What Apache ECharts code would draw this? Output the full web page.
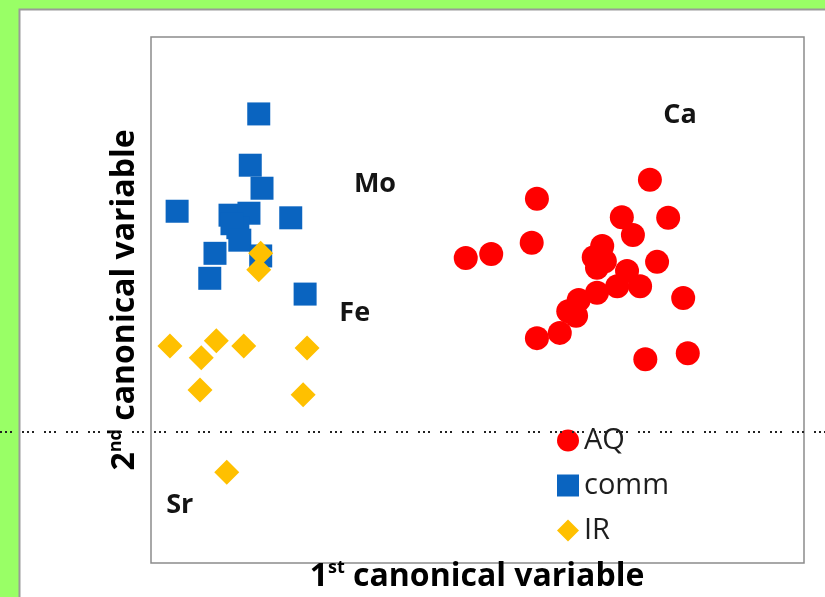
<!DOCTYPE html>
<html>
<head>
<meta charset="utf-8">
<script src="https://cdn.jsdelivr.net/npm/echarts@6/dist/echarts.min.js"></script>
<style>
html, body { margin: 0; padding: 0; background: #99ff66; }
#chart { width: 825px; height: 597px; }
</style>
</head>
<body>
<div id="chart"></div>
<script>
// AQ
var aqX = [3.64, 1.91, 3.21, 3.92, 3.38, 1.83, 0.82, 1.21, 2.91, 2.78, 2.95, 2.83, 3.75, 3.29, 3.14, 3.49, 2.83, 2.55, 2.39, 2.51, 4.15, 2.26, 1.91, 3.57, 4.22];
var aqY = [1.83, 1.54, 1.26, 1.25, 0.99, 0.87, 0.64, 0.70, 0.82, 0.65, 0.59, 0.49, 0.58, 0.44, 0.21, 0.21, 0.11, 0.00, -0.17, -0.24, 0.03, -0.50, -0.58, -0.90, -0.81];
// comm
var commX = [-2.35, -2.48, -2.30, -3.60, -2.79, -2.50, -1.86, -2.67, -2.76, -2.64, -3.02, -2.32, -3.10, -1.64];
var commY = [2.83, 2.05, 1.70, 1.35, 1.29, 1.32, 1.25, 1.10, 1.16, 0.91, 0.71, 0.67, 0.33, 0.09];
// IR
var irX = [-2.32, -2.35, -3.71, -3.00, -3.23, -2.58, -1.61, -3.25, -1.67, -2.84];
var irY = [0.71, 0.46, -0.70, -0.62, -0.88, -0.70, -0.73, -1.37, -1.44, -2.62];
// element labels
var elNames = ['Ca', 'Mo', 'Fe', 'Sr'];
var elX = [4.10, -0.57, -0.88, -3.56];
var elY = [2.81, 1.76, -0.20, -3.13];

var legendNames = ['AQ', 'comm', 'IR'];

function pairs(xs, ys) {
    return xs.map(function (x, i) { return [x, ys[i]]; });
}

var font = '"Open Sans", Lato, sans-serif';
var titleRich = {
    b: { fontSize: 32, fontWeight: 'bold', fontFamily: font, color: '#141414', lineHeight: 36 },
    s: { fontSize: 18, fontWeight: 'bold', fontFamily: font, color: '#141414', verticalAlign: 'top', lineHeight: 19 }
};

var myChart = echarts.init(document.getElementById('chart'));
var options = {
    backgroundColor: '#99ff66',
    animation: false,
    grid: {
        left: 151, top: 37, right: 21, bottom: 34,
        show: true, borderColor: '#8c8c8c', borderWidth: 1.5, backgroundColor: '#fff'
    },
    xAxis: {
        type: 'value', min: -4, max: 6,
        axisLine: { show: false }, axisTick: { show: false },
        axisLabel: { show: false }, splitLine: { show: false }
    },
    yAxis: {
        type: 'value', min: -4, max: 4,
        axisLine: { show: false }, axisTick: { show: false },
        axisLabel: { show: false }, splitLine: { show: false }
    },
    legend: {
        data: legendNames,
        orient: 'vertical',
        left: 552, top: 421,
        itemWidth: 22, itemHeight: 22, itemGap: 16,
        textStyle: { fontSize: 29, fontFamily: font, color: '#1e1e1e' }
    },
    graphic: [
        // white page with grey edge
        { type: 'rect', z: -10, shape: { x: 19, y: 9, width: 806, height: 588 }, style: { fill: '#fff' } },
        { type: 'polyline', z: -9, shape: { points: [[19.5, 597], [19.5, 9.5], [825, 9.5]] }, style: { stroke: '#9a9a9a', lineWidth: 2, fill: null } },
        // axis titles
        {
            type: 'text', z: 50, x: 477, y: 577,
            style: { text: '{b|1}{s|st}{b| canonical variable}', rich: titleRich, align: 'center', verticalAlign: 'middle' }
        },
        {
            type: 'text', z: 50, x: 125, y: 300, rotation: Math.PI / 2,
            style: { text: '{b|2}{s|nd}{b| canonical variable}', rich: titleRich, align: 'center', verticalAlign: 'middle' }
        },
        // dotted line across the whole picture
        {
            type: 'line', z: 100, shape: { x1: 0, y1: 432, x2: 825, y2: 432 },
            style: { stroke: '#222', lineWidth: 2, lineDash: [2, 3, 2, 3, 2, 10] }
        }
    ],
    series: [
        {
            name: 'AQ', type: 'scatter', symbol: 'circle', symbolSize: 24,
            itemStyle: { color: '#ff0000', opacity: 1 },
            data: pairs(aqX, aqY)
        },
        {
            name: 'comm', type: 'scatter', symbol: 'rect', symbolSize: 23,
            itemStyle: { color: '#0a64c0', opacity: 1 },
            data: pairs(commX, commY)
        },
        {
            name: 'IR', type: 'scatter', symbol: 'diamond', symbolSize: 25,
            itemStyle: { color: '#ffc000', opacity: 1 },
            data: pairs(irX, irY)
        },
        {
            name: 'labels', type: 'scatter', symbolSize: 0.01, silent: true,
            itemStyle: { color: '#141414', opacity: 1 },
            label: {
                show: true, position: 'inside',
                formatter: function (p) { return elNames[p.dataIndex]; },
                fontSize: 27, fontWeight: 'bold', fontFamily: font, color: '#141414'
            },
            data: pairs(elX, elY)
        }
    ]
};
myChart.setOption(options);
</script>
</body>
</html>
